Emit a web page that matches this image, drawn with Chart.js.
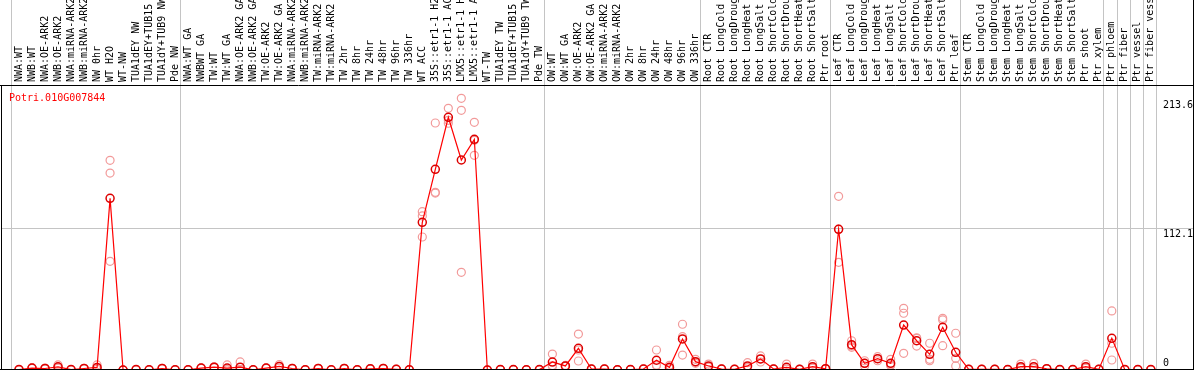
<!DOCTYPE html>
<html><head><meta charset="utf-8">
<script src="https://cdn.jsdelivr.net/npm/chart.js@4.4.0/dist/chart.umd.min.js"></script>
<style>html,body{margin:0;padding:0;background:#fff;overflow:hidden}#wrap{width:1194px;height:370px;position:relative}</style>
</head><body><div id="wrap"><canvas id="c" width="1194" height="370"></canvas></div>
<script>
const geneName = 'Potri.010G007844';

const categories = [
'NWA:WT','NWB:WT','NWA:OE-ARK2','NWB:OE-ARK2','NWA:miRNA-ARK2','NWB:miRNA-ARK2','NW 0hr','WT H2O','WT-NW','TUA1dEY NW','TUA1dEY+TUB15','TUA1dY+TUB9 NW','Pde NW',
'NWA:WT GA','NWBWT GA','TW:WT','TW:WT GA','NWA:OE-ARK2 GA','NWB:OE-ARK2 GA','TW:OE-ARK2','TW:OE-ARK2 GA','NWA:miRNA-ARK2','NWB:miRNA-ARK2','TW:miRNA-ARK2','TW:miRNA-ARK2','TW 2hr','TW 8hr','TW 24hr','TW 48hr','TW 96hr','TW 336hr','WT ACC','35S::etr1-1 H2O','35S::etr1-1 ACC','LMX5::etr1-1 H2O','LMX5::etr1-1 ACC','WT-TW','TUA1dEY TW','TUA1dEY+TUB15','TUA1dY+TUB9 TW','Pde TW',
'OW:WT','OW:WT GA','OW:OE-ARK2','OW:OE-ARK2 GA','OW:miRNA-ARK2','OW:miRNA-ARK2','OW 2hr','OW 8hr','OW 24hr','OW 48hr','OW 96hr','OW 336hr',
'Root CTR','Root LongCold','Root LongDrought','Root LongHeat','Root LongSalt','Root ShortCold','Root ShortDrought','Root ShortHeat','Root ShortSalt','Ptr root',
'Leaf CTR','Leaf LongCold','Leaf LongDrought','Leaf LongHeat','Leaf LongSalt','Leaf ShortCold','Leaf ShortDrought','Leaf ShortHeat','Leaf ShortSalt','Ptr leaf',
'Stem CTR','Stem LongCold','Stem LongDrought','Stem LongHeat','Stem LongSalt','Stem ShortCold','Stem ShortDrought','Stem ShortHeat','Stem ShortSalt','Ptr shoot',
'Ptr xylem','Ptr phloem','Ptr fiber','Ptr vessel','Ptr fiber vessel'];

// first category index of each group (separator lines)
const groupStarts = [0, 13, 41, 53, 63, 73, 84, 85, 86, 87, 88];

const meanValues = [
0.3, 1.5, 1.2, 2.5, 0.3, 1.2, 2.0, 135.5, 0, 0.3, 0.2, 1.2, 0.2,
0.2, 1.5, 2.2, 1.5, 2.2, 0.2, 1.5, 2.8, 1.2, 0.2, 1.2, 0.2, 1.2, 0.2, 0.9, 1.2, 0.6, 0.2, 116.6, 158.4, 199.5, 165.8, 182.1, 0, 0.3, 0.3, 0.2, 0.3,
6.3, 3.2, 17.1, 0.8, 0.8, 0.2, 0.3, 0.8, 7.7, 2.1, 24.5, 6.6,
3.2, 0.8, 0.6, 3.2, 8.7, 0.8, 2.1, 0.5, 2.6, 1.0,
111.1, 20.0, 5.3, 8.9, 5.3, 35.5, 23.1, 12.4, 33.7, 14.0,
0.5, 0.5, 0.5, 0.3, 2.6, 2.6, 1.0, 0.3, 0.3, 2.6,
0.5, 25.0, 0.3, 0.3, 0.3];

const rep1 = [
0.3, 1.8, 1.5, 4.0, 0.3, 1.4, 4.0, 165.5, 0, 0.3, 0.2, 1.4, 0.2,
0.2, 1.7, 2.5, 4.0, 6.4, 0.2, 1.7, 4.2, 1.4, 0.2, 1.4, 0.2, 1.4, 0.2, 1.1, 1.4, 0.8, 0.2, 125.0, 195.0, 206.6, 214.5, 195.5, 0, 0.3, 0.3, 0.2, 0.3,
12.6, 3.6, 28.4, 1.0, 1.0, 0.2, 0.3, 1.0, 15.8, 3.7, 36.1, 8.4,
4.7, 1.0, 0.8, 5.8, 11.1, 1.0, 4.7, 0.5, 4.7, 1.2,
137.1, 23.1, 7.3, 10.5, 8.4, 48.7, 25.0, 21.1, 40.8, 29.0,
0.5, 0.5, 0.5, 0.3, 4.7, 5.3, 1.0, 0.3, 0.3, 4.7,
0.5, 46.6, 0.3, 0.3, 0.3];

const rep2 = [
0.3, 1.5, 1.2, 2.0, 0.3, 1.2, 1.5, 155.5, 0, 0.3, 0.2, 1.2, 0.2,
0.2, 1.5, 2.2, 0.3, 0.1, 0.2, 1.5, 2.8, 1.2, 0.2, 1.2, 0.2, 1.2, 0.2, 0.9, 1.2, 0.6, 0.2, 121.6, 140.3, 194.8, 205.0, 169.5, 0, 0.3, 0.3, 0.2, 0.3,
3.5, 3.2, 7.1, 0.8, 0.8, 0.2, 0.3, 0.8, 3.9, 1.5, 26.3, 5.3,
2.6, 0.8, 0.6, 2.0, 6.3, 0.8, 0.8, 0.5, 1.6, 1.0,
111.2, 19.0, 5.3, 7.3, 4.0, 44.8, 25.4, 8.4, 39.5, 9.2,
0.5, 0.5, 0.5, 0.3, 1.6, 1.3, 1.0, 0.3, 0.3, 1.6,
0.5, 21.1, 0.3, 0.3, 0.3];

const rep3 = [
0.3, 1.2, 0.9, 1.5, 0.3, 1.0, 0.5, 85.8, 0, 0.3, 0.2, 1.0, 0.2,
0.2, 1.3, 1.9, 0.2, 0.1, 0.2, 1.3, 1.4, 1.0, 0.2, 1.0, 0.2, 1.0, 0.2, 0.7, 1.0, 0.4, 0.2, 105.0, 139.7, 197.1, 77.1, 181.3, 0, 0.3, 0.3, 0.2, 0.3,
2.8, 2.8, 15.8, 0.6, 0.6, 0.2, 0.3, 0.6, 3.4, 1.1, 11.8, 6.1,
2.3, 0.6, 0.4, 1.8, 8.7, 0.6, 0.8, 0.5, 1.5, 0.8,
85.0, 17.9, 3.2, 8.9, 3.5, 13.2, 18.9, 7.3, 19.2, 3.2,
0.5, 0.5, 0.5, 0.3, 1.5, 1.2, 1.0, 0.3, 0.3, 1.5,
0.5, 7.9, 0.3, 0.3, 0.3];

const yTickValues = [0, 112.1, 213.6];
const yTickLabels = ['0', '112.1', '213.6'];

const MONO = "'DejaVu Sans Mono', 'Liberation Mono', monospace";
const toXY = arr => arr.map((v, i) => ({x: i, y: v}));

const repStyle = {
  type: 'line', showLine: false, pointRadius: 4, pointBorderWidth: 1.2,
  pointBorderColor: '#f29a9a', pointBackgroundColor: 'rgba(0,0,0,0)', order: 1
};

const overlay = {
  id: 'overlay',
  beforeDatasetsDraw(chart) {
    const c = chart.ctx, xs = chart.scales.x;
    c.save();
    c.strokeStyle = '#c4c4c4';
    c.lineWidth = 1;
    groupStarts.forEach(g => {
      const px = Math.round(xs.getPixelForValue(g - 0.64)) + 0.5;
      c.beginPath(); c.moveTo(px, 0); c.lineTo(px, chart.height); c.stroke();
    });
    c.restore();
  },
  afterDraw(chart) {
    const c = chart.ctx, a = chart.chartArea, ys = chart.scales.y;
    c.save();
    c.strokeStyle = '#000';
    c.lineWidth = 1;
    c.beginPath();
    c.moveTo(0, a.top + 0.5); c.lineTo(chart.width, a.top + 0.5);
    c.moveTo(0, chart.height - 0.5); c.lineTo(chart.width, chart.height - 0.5);
    c.moveTo(a.left + 0.5, a.top); c.lineTo(a.left + 0.5, chart.height);
    c.moveTo(chart.width - 0.5, 0); c.lineTo(chart.width - 0.5, chart.height);
    c.stroke();
    c.font = '10px ' + MONO;
    c.textBaseline = 'alphabetic';
    c.textAlign = 'left';
    c.fillStyle = '#ff0000';
    c.fillText(geneName, a.left + 8, a.top + 16);
    c.fillStyle = '#000';
    yTickValues.forEach((v, k) => {
      const py = Math.min(ys.getPixelForValue(v) + 9, chart.height - 4);
      c.fillText(yTickLabels[k], a.right - 30, py);
    });
    c.restore();
  }
};

new Chart(document.getElementById('c'), {
  type: 'line',
  data: {
    datasets: [
      {
        type: 'line', data: toXY(meanValues), borderColor: '#ff0000', borderWidth: 1.2,
        pointRadius: 4, pointBorderWidth: 1.5, pointBorderColor: '#dd0000',
        pointBackgroundColor: 'rgba(0,0,0,0)', tension: 0, order: 0
      },
      Object.assign({data: toXY(rep1)}, repStyle),
      Object.assign({data: toXY(rep2)}, repStyle),
      Object.assign({data: toXY(rep3)}, repStyle)
    ]
  },
  options: {
    responsive: false, animation: false, devicePixelRatio: 1,
    layout: {autoPadding: false, padding: {left: 1, right: 1, top: 0, bottom: 0}},
    plugins: {legend: {display: false}, tooltip: {enabled: false}, title: {display: false}},
    scales: {
      x: {
        type: 'linear', position: 'top', min: -1.3836, max: 90.24, bounds: 'data',
        grid: {display: false, drawTicks: false}, border: {display: false},
        afterBuildTicks(s) { s.ticks = categories.map((c, i) => ({value: i})); },
        afterFit(s) { s.height = 85; s.paddingLeft = 0; s.paddingRight = 0; },
        ticks: {
          autoSkip: false, minRotation: 90, maxRotation: 90, padding: 3, labelOffset: 12, color: '#000',
          font: {family: MONO, size: 10},
          callback: (v) => categories[v]
        }
      },
      y: {
        type: 'linear', position: 'right', min: 0, max: 225,
        afterBuildTicks(s) { s.ticks = yTickValues.map(v => ({value: v})); },
        afterFit(s) { s.width = 0; s.paddingTop = 0; s.paddingBottom = 0; },
        border: {display: false},
        grid: {drawTicks: false, color: (ctx) => (ctx.tick && ctx.tick.value === 112.1) ? '#c4c4c4' : 'rgba(0,0,0,0)'},
        ticks: {display: false}
      }
    }
  },
  plugins: [overlay]
});
</script>
</body></html>
